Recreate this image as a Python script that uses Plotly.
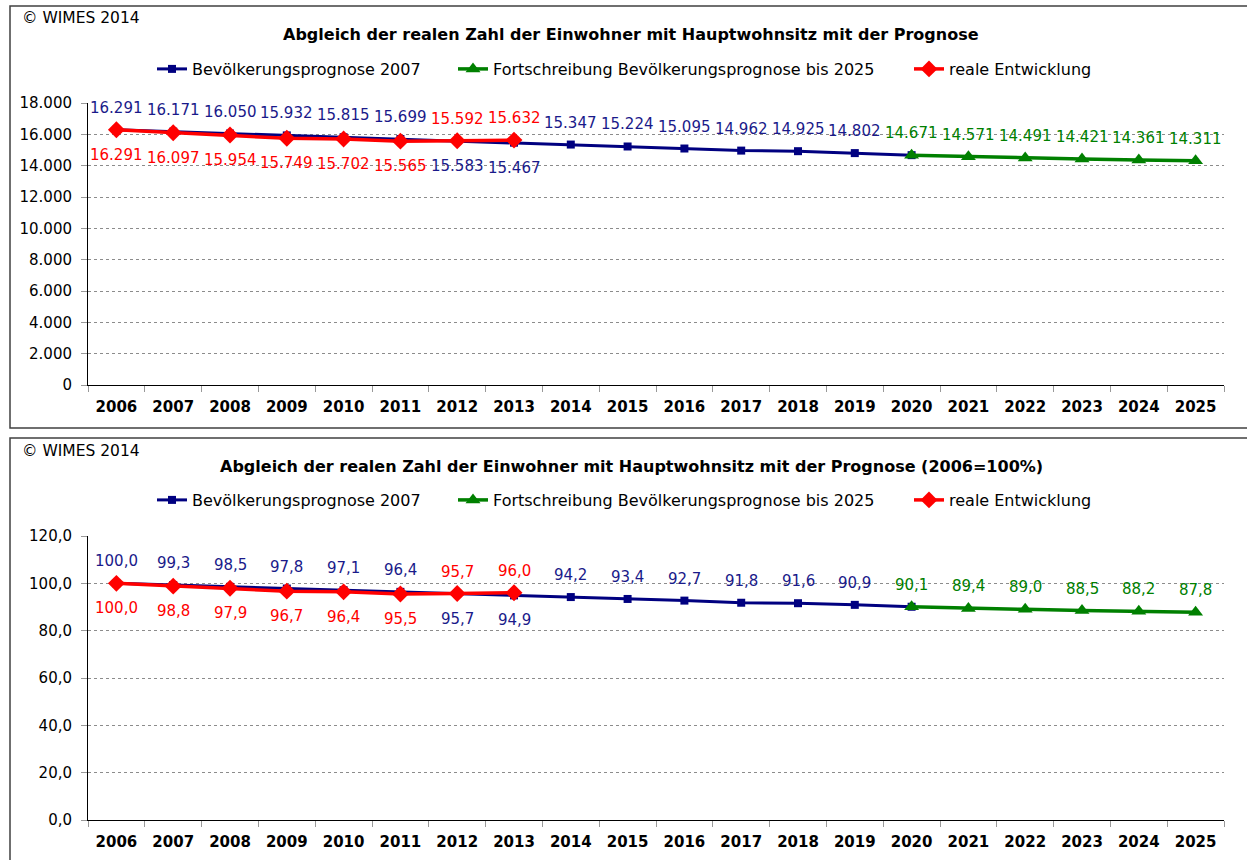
import plotly.graph_objects as go

# ---------------- data ----------------
years = [str(y) for y in range(2006, 2026)]
prog_years = years[0:15]          # 2006-2020
fort_years = years[14:20]         # 2020-2025
real_years = years[0:8]           # 2006-2013

prog_abs = [16291, 16171, 16050, 15932, 15815, 15699, 15583, 15467, 15347, 15224,
            15095, 14962, 14925, 14802, 14671]
fort_abs = [14671, 14571, 14491, 14421, 14361, 14311]
real_abs = [16291, 16097, 15954, 15749, 15702, 15565, 15592, 15632]

prog_pct = [100.0, 99.3, 98.5, 97.8, 97.1, 96.4, 95.7, 94.9, 94.2, 93.4,
            92.7, 91.8, 91.6, 90.9, 90.1]
fort_pct = [90.1, 89.4, 89.0, 88.5, 88.2, 87.8]
real_pct = [100.0, 98.8, 97.9, 96.7, 96.4, 95.5, 95.7, 96.0]

names = ["Bevölkerungsprognose 2007",
         "Fortschreibung Bevölkerungsprognose bis 2025",
         "reale Entwicklung"]
titles = ["Abgleich der realen Zahl der Einwohner mit Hauptwohnsitz mit der Prognose",
          "Abgleich der realen Zahl der Einwohner mit Hauptwohnsitz mit der Prognose (2006=100%)"]
copyright_txt = "© WIMES 2014"

# ---------------- style ----------------
W, H = 1247, 860
BLUE, GREEN, RED = "#000080", "#008000", "#FF0000"
BLUE_TXT = "#1a1a8a"
FONT = "DejaVu Sans"


def px(x):
    return x / W


def py(y):
    return 1 - y / H


def fmt_abs(v):
    return f"{v:,.0f}".replace(",", ".")


def fmt_pct(v):
    return f"{v:.1f}".replace(".", ",")


fig = go.Figure()

panels = [
    dict(xa="x", ya="y", suffix="", ytop=103, ybot=385, rng=[0, 18000], dt=2000,
         tf=",.0f", prog=prog_abs, fort=fort_abs, real=real_abs, fmt=fmt_abs,
         frame=(6, 428), copy_y=18, title_y=34, leg_y=69, legs=["legend", "legend2", "legend3"]),
    dict(xa="x2", ya="y2", suffix="2", ytop=536, ybot=820, rng=[0, 120], dt=20,
         tf=".1f", prog=prog_pct, fort=fort_pct, real=real_pct, fmt=fmt_pct,
         frame=(438, 875), copy_y=451, title_y=466, leg_y=500, legs=["legend4", "legend5", "legend6"]),
]

annotations = []
shapes = []
layout_extra = {}

for i, p in enumerate(panels):
    # traces
    fig.add_trace(go.Scatter(x=prog_years, y=p["prog"], name=names[0], mode="lines+markers",
                             line=dict(color=BLUE, width=3),
                             marker=dict(symbol="square", size=8, color=BLUE),
                             xaxis=p["xa"], yaxis=p["ya"], legend=p["legs"][0]))
    fig.add_trace(go.Scatter(x=fort_years, y=p["fort"], name=names[1], mode="lines+markers",
                             line=dict(color=GREEN, width=3.5),
                             marker=dict(symbol="triangle-up", size=13, color=GREEN),
                             xaxis=p["xa"], yaxis=p["ya"], legend=p["legs"][1]))
    fig.add_trace(go.Scatter(x=real_years, y=p["real"], name=names[2], mode="lines+markers",
                             line=dict(color=RED, width=3.5),
                             marker=dict(symbol="diamond", size=13, color=RED),
                             xaxis=p["xa"], yaxis=p["ya"], legend=p["legs"][2]))

    # data labels (x given as category index)
    for yr, v in zip(prog_years, p["prog"]):
        if yr == "2020":
            continue
        below = yr in ("2012", "2013")
        annotations.append(dict(x=years.index(yr), y=v, xref=p["xa"], yref=p["ya"],
                                text=p["fmt"](v), showarrow=False,
                                yshift=-25 if below else 22,
                                font=dict(family=FONT, size=15, color=BLUE_TXT)))
    for yr, v in zip(fort_years, p["fort"]):
        annotations.append(dict(x=years.index(yr), y=v, xref=p["xa"], yref=p["ya"],
                                text=p["fmt"](v), showarrow=False, yshift=22,
                                font=dict(family=FONT, size=15, color=GREEN)))
    for yr, v in zip(real_years, p["real"]):
        above = yr in ("2012", "2013")
        annotations.append(dict(x=years.index(yr), y=v, xref=p["xa"], yref=p["ya"],
                                text=p["fmt"](v), showarrow=False,
                                yshift=22 if above else -25,
                                font=dict(family=FONT, size=15, color=RED)))

    # title, copyright
    annotations.append(dict(x=px(631), y=py(p["title_y"]), xref="paper", yref="paper",
                            text="<b>" + titles[i] + "</b>", showarrow=False,
                            xanchor="center", yanchor="middle",
                            font=dict(family=FONT, size=16, color="black")))
    annotations.append(dict(x=px(20), y=py(p["copy_y"]), xref="paper", yref="paper",
                            text=copyright_txt, showarrow=False,
                            xanchor="left", yanchor="middle",
                            font=dict(family=FONT, size=15.5, color="black")))

    # frame
    shapes.append(dict(type="rect", xref="paper", yref="paper",
                       x0=px(10), x1=px(1260), y0=py(p["frame"][1]), y1=py(p["frame"][0]),
                       line=dict(color="#404040", width=1.5)))

    # axes
    xkey = "xaxis" + p["suffix"]
    ykey = "yaxis" + p["suffix"]
    layout_extra[xkey] = dict(domain=[px(88), px(1224)], anchor=p["ya"], type="category",
                              categoryorder="array", categoryarray=years,
                              range=[-0.5, 19.5], showline=True, linecolor="black", linewidth=1,
                              ticks="outside", tickson="boundaries", ticklen=6, tickcolor="#999",
                              ticklabelstandoff=8, automargin=False,
                              showgrid=False, zeroline=False, fixedrange=True,
                              tickfont=dict(family=FONT, size=15, color="black", weight="bold"))
    layout_extra[ykey] = dict(domain=[py(p["ybot"]), py(p["ytop"])], anchor=p["xa"],
                              range=p["rng"], dtick=p["dt"], tick0=0, tickformat=p["tf"],
                              showline=True, linecolor="black", linewidth=1,
                              ticks="outside", ticklen=6, tickcolor="#999",
                              ticklabelstandoff=6, automargin=False,
                              showgrid=True, gridcolor="#8c8c8c", griddash="dot", gridwidth=1,
                              zeroline=False, fixedrange=True,
                              tickfont=dict(family=FONT, size=15, color="black"))

    # legends (one per entry for exact placement)
    for k, lx in enumerate([152, 453, 909]):
        layout_extra[p["legs"][k]] = dict(x=px(lx), y=py(p["leg_y"]), xanchor="left",
                                          yanchor="middle", orientation="h",
                                          bgcolor="rgba(0,0,0,0)",
                                          font=dict(family=FONT, size=16, color="black"))

fig.update_layout(
    width=W, height=H, autosize=False,
    margin=dict(l=0, r=0, t=0, b=0, pad=0, autoexpand=False),
    paper_bgcolor="white", plot_bgcolor="white",
    separators=",.",
    showlegend=True,
    annotations=annotations, shapes=shapes,
    font=dict(family=FONT),
    **layout_extra,
)

fig.write_html("out.html",
               config={"displayModeBar": False},
               post_script="document.body.style.margin='0px';"
                           "document.body.style.overflow='hidden';")
